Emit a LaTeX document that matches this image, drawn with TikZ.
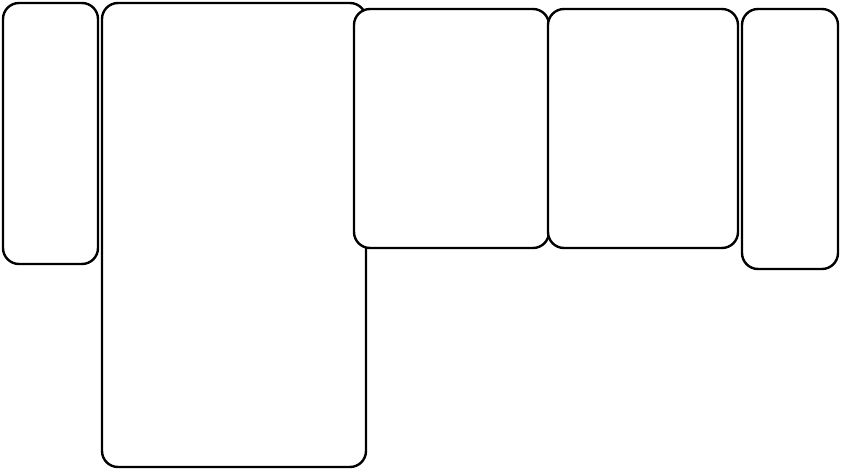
\documentclass[tikz,border=0pt]{standalone}
\usepackage{tikz}

\begin{document}
\begin{tikzpicture}[x=1pt, y=-1pt,
    seat/.style={draw, line width=2.4pt, rounded corners=16pt, fill=white, inner sep=0pt, outer sep=0pt}]
    % Fix the page to the size of the layout
    \useasboundingbox (0, 0) rectangle (841, 471);

    % Draw the left arm and the long chaise
    \node[seat, minimum width=95pt, minimum height=261pt] (armleft) at (50.5, 133.5) {};
    \node[seat, minimum width=264pt, minimum height=464pt] (chaise) at (234, 235) {}; % Draw the long part

    % Draw the two middle seats, overlapping the chaise
    \node[seat, minimum width=195pt, minimum height=239pt] (seatone) at (451.5, 128.5) {};
    \node[seat, minimum width=190pt, minimum height=239pt] (seattwo) at (643, 128.5) {};

    % Draw the right arm
    \node[seat, minimum width=96pt, minimum height=260pt] (armright) at (790, 139) {};
\end{tikzpicture}
\end{document}
